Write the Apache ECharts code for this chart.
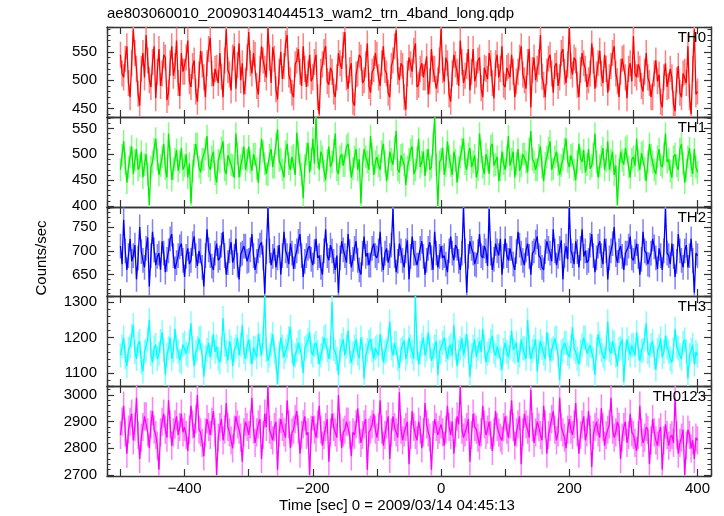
<!DOCTYPE html>
<html><head><meta charset="utf-8">
<script src="https://cdn.jsdelivr.net/npm/echarts@6/dist/echarts.min.js"></script>
<style>html,body{margin:0;padding:0;background:#fff}#c{width:724px;height:516px}</style>
</head><body><div id="c"></div>
<script>
const chartTitle = 'ae803060010_20090314044513_wam2_trn_4band_long.qdp';
const xAxisTitle = 'Time [sec] 0 = 2009/03/14 04:45:13';
const yAxisTitle = 'Counts/sec';
const panelNames = ['TH0', 'TH1', 'TH2', 'TH3', 'TH0123'];
const tStart = -500, tStep = 2.5;
const xTickLabels = [-400, -200, 0, 200, 400];

const th0 = [
545,512,505,538,560,495,470,530,590,548,520,476,455,520,548,505,580,535,500,488,532,560,468,515,555,490,512,545,540,465,478,530,560,508,525,570,495,472,548,515,
515,540,570,498,488,525,535,480,462,510,552,528,505,470,530,555,575,512,490,520,522,495,548,506,470,535,590,518,510,482,540,560,485,527,565,500,530,475,498,540,
585,530,512,548,545,490,475,520,560,535,520,505,592,540,495,558,538,484,466,515,550,502,525,565,580,510,500,478,470,528,535,555,515,490,560,520,488,512,545,498,
505,532,545,470,440,515,528,550,560,498,492,522,515,480,470,505,548,530,520,562,585,505,485,518,530,462,455,510,512,545,540,495,500,528,565,490,478,515,520,548,
545,505,490,530,560,518,512,478,470,525,535,560,588,515,500,530,525,470,448,512,540,528,515,552,565,488,492,520,530,505,505,542,475,498,555,520,520,485,500,535,
590,518,498,540,530,475,462,512,545,528,515,490,570,532,495,508,525,555,482,515,555,498,510,535,540,486,470,522,520,502,548,530,495,468,530,545,505,520,560,492,
488,522,525,505,545,515,470,498,515,540,560,510,500,485,532,555,452,518,540,500,520,532,580,506,492,470,515,538,545,512,478,525,530,490,505,548,555,515,495,528,
592,525,510,540,535,492,470,518,548,530,520,488,500,512,565,535,485,510,530,552,512,495,545,520,478,505,525,548,560,512,498,470,515,538,540,505,468,520,530,498,
578,512,505,528,520,490,480,515,548,505,495,470,470,512,535,498,510,462,452,505,530,488,490,520,505,458,445,500,525,478,470,512,515,495,560,470,440,520,590,475,
480];
const th1 = [
470,498,525,482,445,475,495,515,462,488,510,470,478,505,455,480,500,462,402,475,485,510,530,490,460,478,495,520,472,455,540,495,450,472,490,508,468,485,512,470,
478,500,455,482,405,468,498,520,520,475,465,490,490,510,535,478,470,495,505,462,445,488,485,512,525,470,462,498,500,480,478,455,540,502,455,478,492,515,470,488,
515,485,468,500,500,472,445,490,530,505,482,462,460,498,510,475,475,520,548,488,490,470,455,505,520,482,470,495,498,460,542,505,480,462,415,478,500,522,465,490,
530,482,572,495,470,505,495,468,450,488,515,475,485,508,540,470,462,495,500,478,478,515,520,488,455,472,495,510,470,490,405,478,510,495,485,470,535,500,460,485,
495,478,470,505,520,485,448,472,505,490,480,512,545,470,465,498,500,480,440,475,490,508,515,462,470,492,530,475,485,505,458,488,510,470,475,520,572,480,400,485,
490,512,460,478,525,495,478,460,505,488,445,475,495,510,530,482,470,500,512,475,485,498,455,470,540,505,475,462,500,488,462,515,520,478,480,495,448,470,505,482,
470,495,535,478,490,505,455,482,510,468,478,500,500,485,465,510,545,490,485,470,470,498,515,475,448,482,495,512,525,470,472,495,505,480,460,478,490,510,530,486,
475,498,500,470,450,485,520,492,485,508,465,480,510,472,478,500,540,485,455,478,495,512,470,488,525,470,488,505,460,478,402,470,505,488,480,512,515,475,455,490,
495,478,530,488,470,502,505,472,448,485,520,498,485,470,462,495,510,480,475,500,540,485,490,468,455,495,500,478,470,510,520,482,445,470,495,512,478,462,510,475,
465];
const th2 = [
710,672,765,700,660,690,725,678,690,712,640,685,750,698,680,665,705,728,625,690,740,702,670,688,695,660,720,695,655,682,700,725,735,690,662,675,690,708,715,680,
645,688,705,672,680,715,730,690,668,700,700,665,625,690,745,702,690,668,660,695,715,680,685,712,740,690,650,675,700,718,675,688,725,670,640,692,695,710,710,678,
680,702,735,690,660,678,700,712,718,685,610,698,790,700,670,688,705,665,685,712,650,690,740,700,690,672,715,695,662,688,700,720,735,690,645,678,690,705,710,682,
670,698,725,685,690,665,650,700,745,690,680,712,700,678,660,690,612,685,720,702,690,675,735,698,665,682,705,720,680,660,650,695,730,688,695,670,670,705,715,690,
685,700,740,682,660,695,705,675,690,712,788,690,655,678,715,700,680,665,700,722,640,688,730,695,695,670,670,705,720,688,650,680,705,718,685,660,740,695,665,688,
710,685,690,672,655,700,730,695,680,712,705,678,660,695,790,700,612,688,720,705,695,672,670,698,735,690,685,710,700,668,788,695,660,682,715,700,690,725,650,688,
725,690,680,705,705,672,660,698,740,712,695,680,670,702,715,688,650,695,700,718,730,690,685,665,660,698,720,705,695,678,745,700,670,688,705,722,640,690,710,682,
790,700,690,672,720,698,665,705,745,688,700,675,680,712,735,690,655,685,710,720,690,672,725,700,640,685,700,715,750,692,675,700,710,688,660,695,695,710,730,685,
680,698,715,688,650,682,740,700,695,672,670,695,725,708,685,662,705,690,660,700,788,695,690,672,715,688,645,678,735,700,680,665,700,712,665,690,725,680,612,695,
690];
const th3 = [
1150,1175,1200,1145,1120,1168,1175,1205,1235,1160,1140,1182,1190,1130,1105,1160,1165,1195,1250,1155,1130,1172,1180,1140,1155,1190,1215,1165,1095,1150,1170,1200,1140,1162,1225,1175,1160,1135,1130,1180,
1185,1155,1150,1190,1240,1170,1120,1160,1170,1198,1200,1150,1090,1145,1165,1185,1145,1172,1210,1160,1175,1140,1130,1168,1255,1180,1160,1135,1190,1172,1120,1165,1175,1200,1150,1180,1235,1160,1140,1175,
1195,1160,1125,1172,1170,1145,1210,1180,1150,1200,1317,1165,1135,1150,1180,1210,1160,1140,1070,1155,1200,1175,1145,1162,1175,1198,1230,1160,1120,1150,1165,1185,1190,1150,1100,1170,1175,1192,1215,1160,
1150,1178,1185,1160,1125,1150,1170,1200,1205,1165,1140,1172,1300,1168,1160,1140,1095,1162,1180,1195,1150,1175,1220,1160,1130,1155,1175,1195,1155,1142,1200,1168,1085,1150,1165,1188,1195,1165,1140,1170,
1175,1150,1210,1172,1130,1160,1165,1195,1245,1170,1150,1185,1185,1140,1115,1165,1170,1192,1140,1158,1200,1175,1160,1140,1317,1170,1125,1158,1180,1200,1150,1168,1215,1175,1135,1150,1175,1190,1095,1160,
1160,1185,1200,1165,1140,1172,1180,1150,1235,1170,1120,1160,1170,1198,1150,1175,1210,1160,1090,1150,1175,1195,1145,1168,1190,1160,1225,1175,1130,1155,1165,1190,1205,1160,1150,1175,1175,1140,1110,1165,
1185,1160,1145,1172,1220,1165,1160,1185,1130,1150,1195,1170,1170,1140,1250,1175,1140,1162,1175,1195,1105,1160,1190,1172,1155,1140,1215,1180,1135,1165,1170,1198,1200,1150,1080,1160,1165,1185,1185,1155,
1145,1175,1230,1168,1160,1140,1125,1162,1180,1200,1200,1155,1150,1178,1175,1140,1095,1168,1210,1185,1165,1150,1140,1172,1245,1165,1155,1190,1185,1150,1120,1168,1170,1195,1075,1155,1195,1170,1150,1178,
1180,1150,1215,1170,1135,1162,1165,1195,1240,1160,1150,1178,1190,1145,1110,1165,1175,1198,1145,1160,1205,1172,1160,1140,1130,1168,1225,1175,1170,1150,1140,1185,1195,1160,1085,1150,1165,1180,1125,1160,
1150];
const th0123 = [
2850,2900,2960,2860,2780,2870,2900,2930,2830,2880,2990,2850,2760,2840,2880,2920,2920,2860,2800,2890,2940,2870,2850,2810,2720,2860,2900,2930,2870,2840,2980,2890,2810,2860,2890,2920,2850,2880,2930,2860,
2880,2850,2790,2870,2960,2890,2840,2910,3000,2870,2860,2820,2770,2860,2910,2880,2850,2900,2940,2860,2700,2840,2880,2910,2830,2870,2970,2880,2860,2830,2800,2870,2920,2890,2870,2840,2750,2860,2900,2880,
2850,2890,2990,2870,2820,2860,2890,2910,2760,2850,2930,2880,3030,2870,2850,2830,2880,2900,2720,2860,2910,2880,2860,2840,2980,2890,2800,2860,2870,2910,2940,2870,2780,2850,2890,2920,2850,2860,2700,2870,
2920,2870,2840,2890,2960,2870,2810,2850,2880,2910,2750,2860,2930,2880,2860,2840,3000,2880,2800,2860,2870,2900,2900,2850,2770,2860,2850,2890,2950,2870,2820,2850,2890,2910,2720,2860,2870,2890,2930,2870,
2840,2880,2980,2870,2810,2850,2890,2920,2760,2860,2920,2880,2860,2840,3010,2870,2830,2860,2880,2900,2740,2850,2940,2880,2850,2830,2900,2870,2800,2860,2970,2890,2860,2840,2720,2850,2910,2880,2850,2870,
2890,2860,2810,2870,2960,2880,2850,2900,2780,2860,2920,2890,3030,2870,2840,2860,2880,2910,2750,2850,2930,2880,2870,2840,2810,2860,2960,2890,2850,2870,2900,2850,2790,2860,2940,2880,2860,2840,2830,2880,
2920,2870,2840,2890,2980,2880,2810,2860,2890,2920,2740,2860,2930,2890,2870,2840,3020,2880,2820,2860,2900,2880,2850,2830,2960,2890,2780,2850,2880,2910,2940,2870,2830,2860,2990,2880,2860,2840,2800,2870,
2910,2870,2850,2890,2970,2860,2780,2850,2890,2920,2830,2860,2940,2870,2730,2850,2880,2900,2860,2840,2950,2880,2810,2850,2870,2890,2990,2870,2840,2860,2900,2880,2760,2840,2880,2900,2820,2850,2930,2860,
2850,2820,2790,2850,2960,2860,2820,2840,2880,2870,2740,2830,2910,2860,2830,2810,2860,2880,2720,2830,2890,2850,2810,2840,2850,2820,2990,2850,2780,2820,2840,2870,2700,2810,2870,2850,2800,2830,2760,2840,
2830];
const errBar = [23, 22, 26, 34, 53];

const panelData = [th0, th1, th2, th3, th0123];
const yMin = [435, 398, 605, 1064, 2696];
const yMax = [594, 572, 792, 1317, 3034];
const yLabelStep = [50, 50, 50, 100, 100];
const lineColors = ['#ff0000', '#00ee00', '#0000ff', '#00ffff', '#ff00ff'];
const barColors = ['#ff8080', '#80ff80', '#8080ff', '#80ffff', '#ff80ff'];

const FONT = '"Liberation Sans", Arial, Helvetica, sans-serif';
const gridTops = [27, 117, 207, 296, 386];
const gridHeights = [90, 90, 89, 90, 90];
const axisColor = '#333';
const xMin = -521, xMax = 421;
const minus = v => String(v).replace('-', '\u2212');

const grids = [], xAxes = [], yAxes = [], series = [];
for (let k = 0; k < 5; k++) {
  grids.push({left: 107, width: 604, top: gridTops[k], height: gridHeights[k]});
  const lineStyle = {color: axisColor, width: 1.4};
  const tickStyle = {color: axisColor, width: 1.2};
  ['bottom', 'top'].forEach(pos => {
    xAxes.push({
      gridIndex: k, type: 'value', position: pos, min: xMin, max: xMax, splitNumber: 9,
      axisLine: {show: true, onZero: false, lineStyle},
      axisTick: {show: true, inside: true, length: 7, lineStyle: tickStyle},
      minorTick: {show: false},
      splitLine: {show: false},
      axisLabel: {
        show: pos === 'bottom' && k === 4, margin: 5, color: '#000', fontSize: 15, fontFamily: FONT,
        formatter: v => xTickLabels.indexOf(v) >= 0 ? minus(v) : ''
      }
    });
  });
  ['left', 'right'].forEach(pos => {
    yAxes.push({
      gridIndex: k, type: 'value', position: pos, min: yMin[k], max: yMax[k], splitNumber: 3,
      axisLine: {show: true, onZero: false, lineStyle},
      axisTick: {show: true, inside: true, length: 7, lineStyle: tickStyle},
      minorTick: {show: true, splitNumber: 5, length: 3.5, lineStyle: {color: axisColor, width: 1}},
      splitLine: {show: false},
      axisLabel: {
        show: pos === 'left', margin: 10, color: '#000', fontSize: 15, fontFamily: FONT,
        formatter: v => (v % yLabelStep[k] === 0) ? String(v) : ''
      }
    });
  });
  const pts = panelData[k].map((v, i) => [tStart + i * tStep, v]);
  const err = errBar[k], lo = yMin[k], hi = yMax[k];
  const bars = [];
  pts.forEach(p => {
    bars.push([p[0], Math.max(lo, p[1] - err)]);
    bars.push([p[0], Math.min(hi, p[1] + err)]);
    bars.push([p[0], '-']);
  });
  series.push({
    type: 'line', xAxisIndex: 2 * k, yAxisIndex: 2 * k, data: bars, showSymbol: false, symbol: 'none',
    connectNulls: false, lineStyle: {color: barColors[k], width: 1.5}, silent: true, clip: true, z: 1
  });
  series.push({
    type: 'line', xAxisIndex: 2 * k, yAxisIndex: 2 * k, data: pts, showSymbol: false, symbol: 'none',
    lineStyle: {color: lineColors[k], width: 1.3}, silent: true, clip: true, z: 2
  });
}

const graphics = [
  {type: 'text', left: 107, top: 6, style: {text: chartTitle, font: '15px ' + FONT, fill: '#000'}},
  {type: 'text', x: 397, y: 506, style: {text: xAxisTitle, font: '15px ' + FONT, fill: '#000', align: 'center', verticalAlign: 'middle'}},
  {type: 'text', x: 42, y: 258, rotation: Math.PI / 2, style: {text: yAxisTitle, font: '15px ' + FONT, fill: '#000', align: 'center', verticalAlign: 'middle'}}
];
panelNames.forEach((n, k) => {
  graphics.push({type: 'text', x: 706, y: gridTops[k] + 11, z: 100,
    style: {text: n, font: '15px ' + FONT, fill: '#000', align: 'right', verticalAlign: 'middle'}});
});

const chart = echarts.init(document.getElementById('c'), null, {renderer: 'canvas'});
chart.setOption({
  animation: false, backgroundColor: '#fff',
  grid: grids, xAxis: xAxes, yAxis: yAxes, series, graphic: graphics
});
</script></body></html>
